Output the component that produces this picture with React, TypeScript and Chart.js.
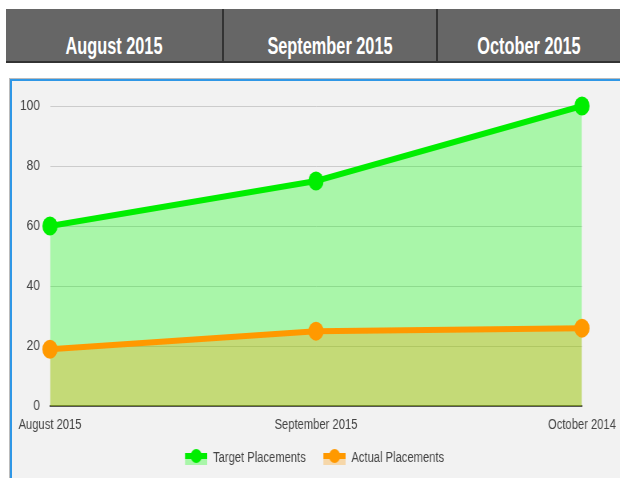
import React, { useEffect, useRef } from "react";
import { Chart, registerables } from "chart.js";

Chart.register(...registerables);

const headerMonths = ["August 2015", "September 2015", "October 2015"];
const categories = ["August 2015", "September 2015", "October 2014"];
const targetPlacements = [60, 75, 100];
const actualPlacements = [19, 25, 26];
const seriesNames = ["Target Placements", "Actual Placements"];
const yTicks = [0, 20, 40, 60, 80, 100];

const FONT = "'Liberation Sans', Arial, sans-serif";
const GREEN = "#00ee00";
const ORANGE = "#ff9900";
const GREEN_FILL = "rgba(0,255,0,0.3)";
const ORANGE_FILL = "rgba(255,153,0,0.3)";

// horizontal squeeze applied to the whole chart canvas (the reference is narrow)
const SQ = 0.8;
const VIEW_W = 608;
const VIEW_H = 398;
const CW = Math.round(VIEW_W / SQ);

function makeIcon(color: string, fill: string): HTMLCanvasElement {
  const M = 14;
  const W = 28;
  const c = document.createElement("canvas");
  c.width = W + M;
  c.height = 18;
  const ctx = c.getContext("2d")!;
  ctx.fillStyle = fill;
  ctx.fillRect(M, 10, W, 6);
  ctx.fillStyle = color;
  ctx.fillRect(M, 4, W, 6);
  ctx.beginPath();
  ctx.arc(M + W / 2, 7, 7, 0, Math.PI * 2);
  ctx.fill();
  return c;
}

const shiftLegend = {
  id: "shiftLegend",
  afterLayout(c: any) {
    if (c.legend) {
      c.legend.left += 15;
      c.legend.right += 15;
    }
  },
};

function LineChart() {
  const ref = useRef<HTMLCanvasElement | null>(null);
  useEffect(() => {
    if (!ref.current) return;
    const icons = [makeIcon(GREEN, GREEN_FILL), makeIcon(ORANGE, ORANGE_FILL)];
    const chart = new Chart(ref.current, {
      type: "line",
      data: {
        labels: categories,
        datasets: [
          {
            label: seriesNames[0],
            data: targetPlacements,
            borderColor: GREEN,
            backgroundColor: GREEN_FILL,
            pointBackgroundColor: GREEN,
            pointBorderColor: GREEN,
            borderWidth: 6,
            pointRadius: 9.5,
            pointBorderWidth: 0,
            fill: "origin",
            tension: 0,
            order: 1,
            clip: false,
          },
          {
            label: seriesNames[1],
            data: actualPlacements,
            borderColor: ORANGE,
            backgroundColor: ORANGE_FILL,
            pointBackgroundColor: ORANGE,
            pointBorderColor: ORANGE,
            borderWidth: 6,
            pointRadius: 9.5,
            pointBorderWidth: 0,
            fill: "origin",
            tension: 0,
            order: 0,
            clip: false,
          },
        ],
      },
      plugins: [shiftLegend],
      options: {
        responsive: false,
        animation: false,
        devicePixelRatio: 1,
        layout: { padding: { left: 0, right: 47.5, top: 26, bottom: 3 } },
        scales: {
          x: {
            offset: false,
            grid: { display: false, drawTicks: false },
            border: { display: true, color: "#555", width: 2 },
            ticks: { color: "#444", font: { family: FONT, size: 14 }, padding: 11, maxRotation: 0, autoSkip: false },
            afterFit: (s: any) => {
              s.height -= 2;
              s.paddingLeft = 0;
              s.paddingRight = 0;
            },
          },
          y: {
            min: 0,
            max: 100,
            afterBuildTicks: (s: any) => {
              s.ticks = yTicks.map((v) => ({ value: v }));
            },
            afterFit: (s: any) => {
              s.width = 47.5;
            },
            grid: { color: "#cccccc", drawTicks: false, lineWidth: 1 },
            border: { display: false },
            ticks: { color: "#444", font: { family: FONT, size: 15 }, padding: 12.5 },
          },
        },
        plugins: {
          tooltip: { enabled: false },
          legend: {
            position: "bottom",
            labels: {
              usePointStyle: true,
              pointStyleWidth: 42,
              boxHeight: 14,
              color: "#444",
              font: { family: FONT, size: 14 },
              padding: 8,
              sort: (a: any, b: any) => a.datasetIndex - b.datasetIndex,
              generateLabels: (ch: any) =>
                ch.data.datasets.map((ds: any, i: number) => ({
                  text: ds.label,
                  fillStyle: ds.borderColor,
                  strokeStyle: ds.borderColor,
                  lineWidth: 0,
                  pointStyle: icons[i],
                  hidden: false,
                  datasetIndex: i,
                  fontColor: "#444",
                })),
            },
          },
        },
      },
    });
    return () => chart.destroy();
  }, []);
  return (
    <div
      style={{
        position: "absolute",
        left: 12,
        top: 80,
        width: CW,
        height: VIEW_H,
        transform: `scaleX(${SQ})`,
        transformOrigin: "0 0",
      }}
    >
      <canvas ref={ref} width={CW} height={VIEW_H} style={{ display: "block", width: CW, height: VIEW_H }} />
    </div>
  );
}

export default function App() {
  const colEdges = [6, 222, 436, 620];
  return (
    <div style={{ position: "absolute", left: 0, top: 0, width: 620, height: 478, background: "#fff", overflow: "hidden" }}>
      <div
        style={{
          position: "absolute",
          left: 6,
          top: 9,
          width: 614,
          height: 52,
          background: "#666666",
          borderBottom: "2px solid #333",
        }}
      />
      {headerMonths.map((m, i) => (
        <div
          key={m}
          style={{
            position: "absolute",
            left: colEdges[i],
            top: 9,
            width: colEdges[i + 1] - colEdges[i],
            height: 52,
            borderLeft: i > 0 ? "2px solid #333" : "none",
            boxSizing: "border-box",
            textAlign: "center",
          }}
        >
          <span
            style={{
              position: "absolute",
              left: 0,
              right: 0,
              top: 24,
              color: "#fff",
              fontFamily: FONT,
              fontWeight: "bold",
              fontSize: 24,
              lineHeight: "26px",
              whiteSpace: "nowrap",
              transform: "scaleX(0.68)",
              transformOrigin: "50% 0",
            }}
          >
            {m}
          </span>
        </div>
      ))}
      <div
        style={{
          position: "absolute",
          left: 9,
          top: 78,
          width: 611,
          height: 400,
          borderTop: "1px solid #bbb",
          borderLeft: "1px solid #bbb",
          boxSizing: "border-box",
        }}
      />
      <div
        style={{
          position: "absolute",
          left: 10,
          top: 79,
          width: 610,
          height: 399,
          borderTop: "2px solid #2f97e6",
          borderLeft: "2px solid #2f97e6",
          background: "#f2f2f2",
          boxSizing: "border-box",
        }}
      />
      <LineChart />
    </div>
  );
}
